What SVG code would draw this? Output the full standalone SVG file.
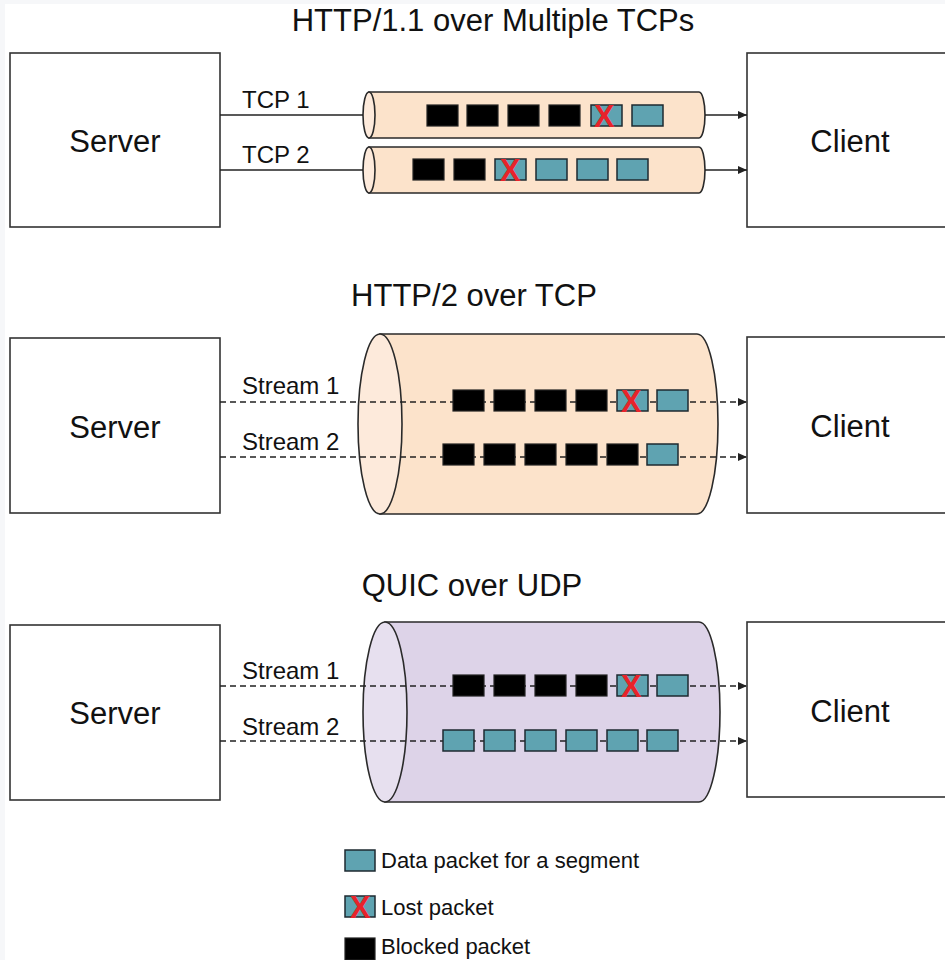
<svg xmlns="http://www.w3.org/2000/svg" width="945" height="960" viewBox="0 0 945 960">
<style>
text{font-family:"Liberation Sans",Arial,sans-serif;fill:#111}
.title{font-size:31px;text-anchor:middle}
.big{font-size:31px;text-anchor:middle}
.lbl{font-size:24px}
.leg{font-size:22px}
.box{fill:#fff;stroke:#333;stroke-width:1.6}
.blk{fill:#000;stroke:#222;stroke-width:1.2}
.data{fill:#5fa3b1;stroke:#1e2a30;stroke-width:1.5}
.x{font-family:"Liberation Sans",Arial,sans-serif;font-weight:bold;font-size:31px;fill:#e8232a;text-anchor:middle}
.solid{stroke:#222;stroke-width:1.5;fill:none}
.dash{stroke:#222;stroke-width:1.7;fill:none;stroke-dasharray:6 4}
.tube{fill:#fce3cb;stroke:#2a2a2a;stroke-width:1.6}
.tubeface{fill:#fdeadb;stroke:#2a2a2a;stroke-width:1.6}
.quic{fill:#ddd3e8;stroke:#2a2a2a;stroke-width:1.6}
.quicface{fill:#e7e0ef;stroke:#2a2a2a;stroke-width:1.6}
</style>
<defs>
<marker id="arr" markerUnits="userSpaceOnUse" markerWidth="9" markerHeight="8" refX="9" refY="4" orient="auto">
<path d="M0,0 L9,4 L0,8 z" fill="#222"/>
</marker>
</defs>
<rect x="0" y="0" width="945" height="960" fill="#f6f7f9"/>
<rect x="5" y="4" width="940" height="956" fill="#ffffff"/>

<!-- Section 1 -->
<text class="title" x="493" y="31">HTTP/1.1 over Multiple TCPs</text>
<g id="server1"><rect class="box" x="10" y="53" width="210" height="174"/><text class="big" x="115" y="152">Server</text></g>
<g id="client1"><rect class="box" x="747" y="53" width="210" height="174"/><text class="big" x="850" y="152">Client</text></g>
<g id="tcp1-tube">
<path class="tube" d="M369,92 L699,92 A6,23 0 0 1 699,138 L369,138 Z"/>
<ellipse class="tubeface" cx="369" cy="115" rx="6" ry="23"/>
</g>
<g id="tcp2-tube">
<path class="tube" d="M369,147 L699,147 A6,23 0 0 1 699,193 L369,193 Z"/>
<ellipse class="tubeface" cx="369" cy="170" rx="6" ry="23"/>
</g>

<!-- Section 2 -->
<text class="title" x="474" y="306">HTTP/2 over TCP</text>
<g id="server2"><rect class="box" x="10" y="338" width="210" height="175"/><text class="big" x="115" y="438">Server</text></g>
<g id="client2"><rect class="box" x="747" y="337" width="210" height="176"/><text class="big" x="850" y="437">Client</text></g>
<g id="tcp-cylinder">
<path class="tube" d="M380,334 L697,334 A21,90 0 0 1 697,514 L380,514 Z"/>
<ellipse class="tubeface" cx="380" cy="424" rx="22" ry="90"/>
</g>

<!-- Section 3 -->
<text class="title" x="472" y="596">QUIC over UDP</text>
<g id="server3"><rect class="box" x="10" y="625" width="210" height="175"/><text class="big" x="115" y="724">Server</text></g>
<g id="client3"><rect class="box" x="747" y="622" width="210" height="175"/><text class="big" x="850" y="722">Client</text></g>
<g id="udp-cylinder">
<path class="quic" d="M385,622 L699,622 A21,90 0 0 1 699,802 L385,802 Z"/>
<ellipse class="quicface" cx="385" cy="712" rx="22" ry="90"/>
</g>

<g id="connectors">
<path class="solid" d="M220,115 H363"/>
<path class="solid" d="M220,170 H363"/>
<path class="solid" d="M705,115 H747" marker-end="url(#arr)"/>
<path class="solid" d="M705,170 H747" marker-end="url(#arr)"/>
<path class="dash" d="M220,402 H747" marker-end="url(#arr)"/>
<path class="dash" d="M220,457 H747" marker-end="url(#arr)"/>
<path class="dash" d="M220,686 H747" marker-end="url(#arr)"/>
<path class="dash" d="M220,741 H747" marker-end="url(#arr)"/>
</g>

<g id="labels">
<text class="lbl" x="242" y="108">TCP 1</text>
<text class="lbl" x="242" y="163">TCP 2</text>
<text class="lbl" x="242" y="394">Stream 1</text>
<text class="lbl" x="242" y="450">Stream 2</text>
<text class="lbl" x="242" y="679">Stream 1</text>
<text class="lbl" x="242" y="735">Stream 2</text>
</g>

<!-- packets section 1 -->
<g id="tcp1-packets">
<rect class="blk" x="427" y="105" width="31" height="21"/>
<rect class="blk" x="467" y="105" width="31" height="21"/>
<rect class="blk" x="508" y="105" width="31" height="21"/>
<rect class="blk" x="549" y="105" width="31" height="21"/>
<rect class="data" x="591" y="105" width="31" height="21"/>
<text class="x" x="604" y="127">X</text>
<rect class="data" x="632" y="105" width="31" height="21"/>
</g>
<g id="tcp2-packets">
<rect class="blk" x="413" y="159" width="31" height="21"/>
<rect class="blk" x="454" y="159" width="31" height="21"/>
<rect class="data" x="495" y="159" width="31" height="21"/>
<text class="x" x="510" y="181">X</text>
<rect class="data" x="536" y="159" width="31" height="21"/>
<rect class="data" x="577" y="159" width="31" height="21"/>
<rect class="data" x="617" y="159" width="31" height="21"/>
</g>

<!-- packets section 2 -->
<g id="h2-stream1-packets">
<rect class="blk" x="453" y="390" width="31" height="21"/>
<rect class="blk" x="494" y="390" width="31" height="21"/>
<rect class="blk" x="535" y="390" width="31" height="21"/>
<rect class="blk" x="576" y="390" width="31" height="21"/>
<rect class="data" x="617" y="390" width="31" height="21"/>
<text class="x" x="631" y="412">X</text>
<rect class="data" x="657" y="390" width="31" height="21"/>
</g>
<g id="h2-stream2-packets">
<rect class="blk" x="443" y="444" width="31" height="21"/>
<rect class="blk" x="484" y="444" width="31" height="21"/>
<rect class="blk" x="525" y="444" width="31" height="21"/>
<rect class="blk" x="566" y="444" width="31" height="21"/>
<rect class="blk" x="607" y="444" width="31" height="21"/>
<rect class="data" x="647" y="444" width="31" height="21"/>
</g>

<!-- packets section 3 -->
<g id="quic-stream1-packets">
<rect class="blk" x="453" y="675" width="31" height="21"/>
<rect class="blk" x="494" y="675" width="31" height="21"/>
<rect class="blk" x="535" y="675" width="31" height="21"/>
<rect class="blk" x="576" y="675" width="31" height="21"/>
<rect class="data" x="617" y="675" width="31" height="21"/>
<text class="x" x="631" y="697">X</text>
<rect class="data" x="657" y="675" width="31" height="21"/>
</g>
<g id="quic-stream2-packets">
<rect class="data" x="443" y="730" width="31" height="21"/>
<rect class="data" x="484" y="730" width="31" height="21"/>
<rect class="data" x="525" y="730" width="31" height="21"/>
<rect class="data" x="566" y="730" width="31" height="21"/>
<rect class="data" x="607" y="730" width="31" height="21"/>
<rect class="data" x="647" y="730" width="31" height="21"/>
</g>

<!-- legend -->
<g id="legend">
<rect class="data" x="345" y="850" width="30" height="21"/>
<text class="leg" x="381" y="868">Data packet for a segment</text>
<rect class="data" x="345" y="896" width="30" height="21"/>
<text class="x" x="360" y="918">X</text>
<text class="leg" x="381" y="915">Lost packet</text>
<rect class="blk" x="345" y="938" width="30" height="22"/>
<text class="leg" x="381" y="954">Blocked packet</text>
</g>
</svg>
